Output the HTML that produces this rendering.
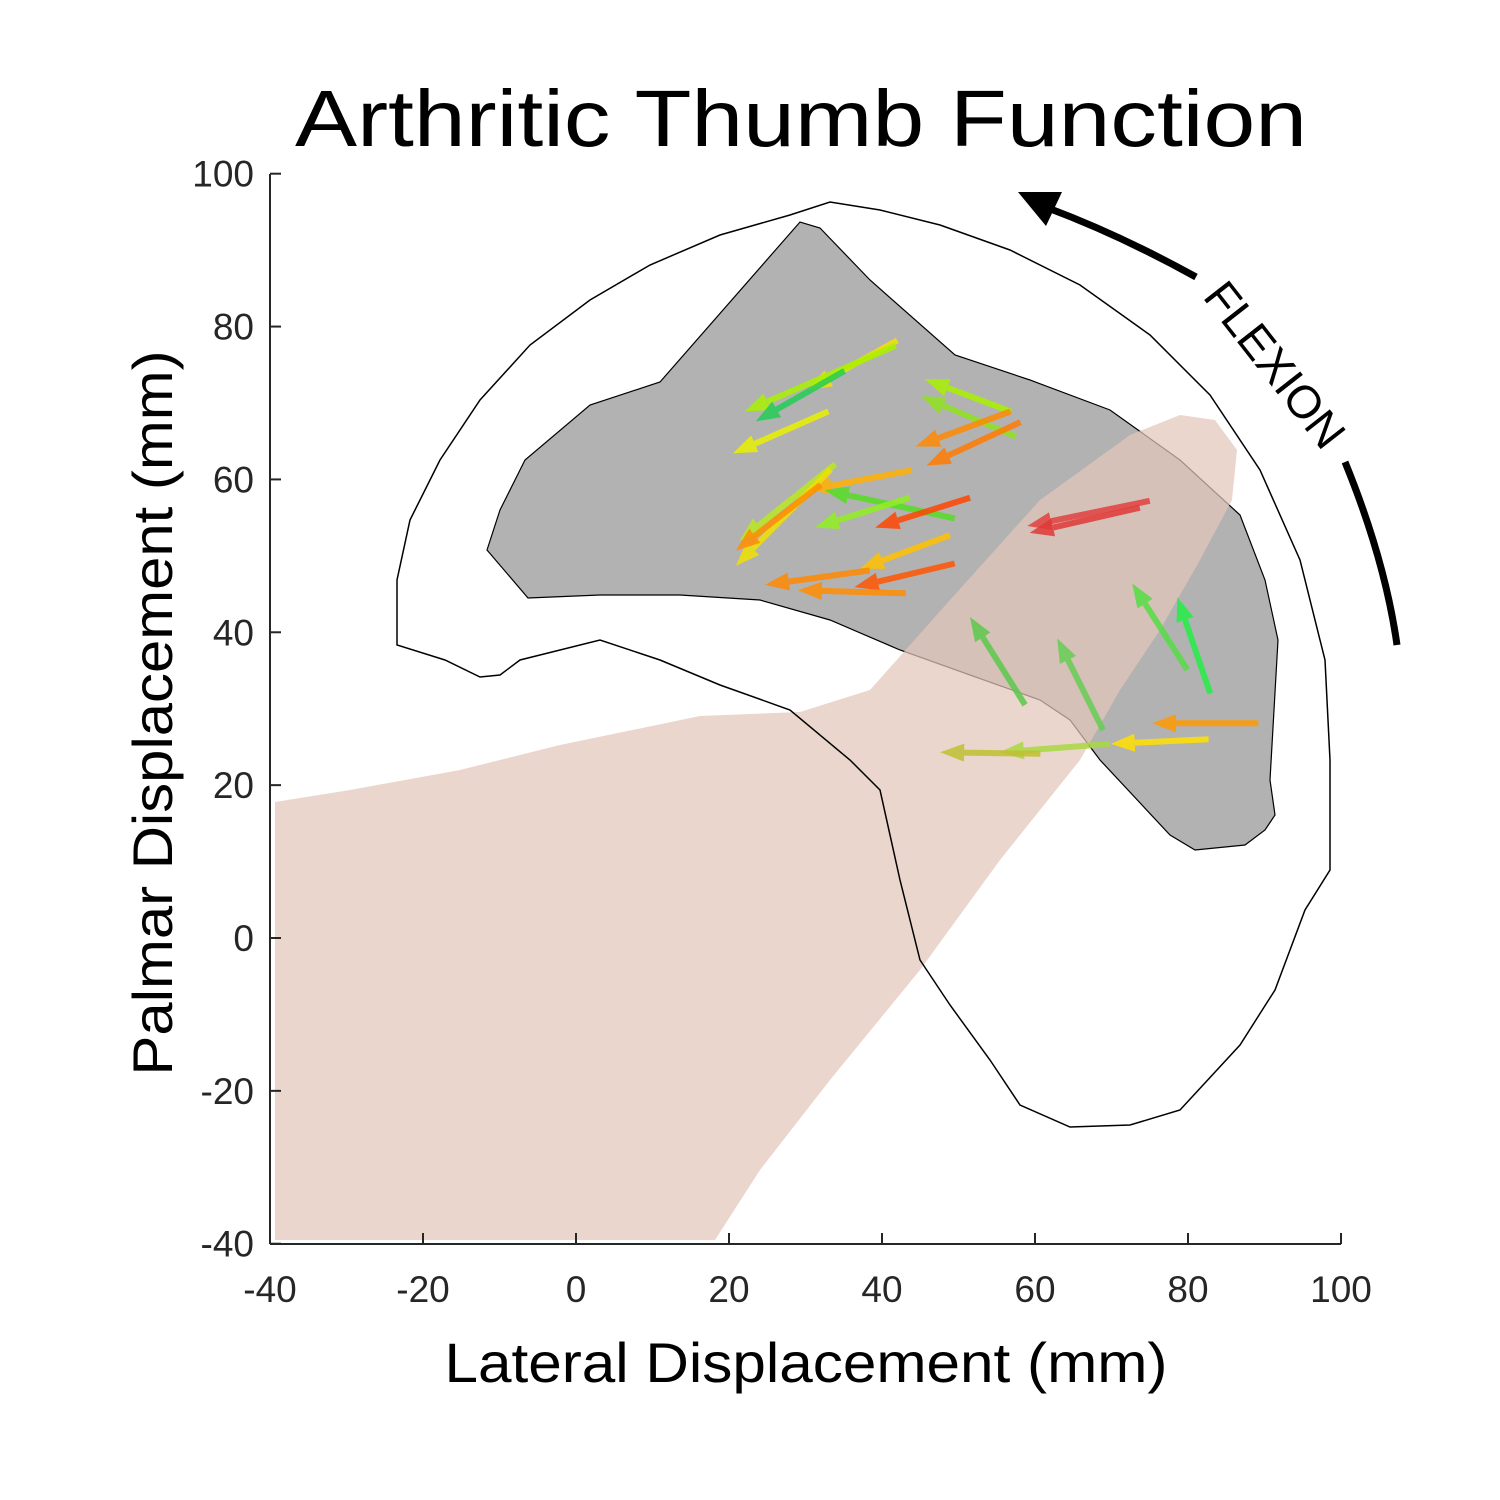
<!DOCTYPE html>
<html><head><meta charset="utf-8"><style>
html,body{margin:0;padding:0;background:#fff;}
svg{display:block;font-family:"Liberation Sans",sans-serif;}
</style></head><body>
<svg id="chart" width="1500" height="1500" viewBox="0 0 1500 1500">
<rect width="1500" height="1500" fill="#fff"/>
<text x="801" y="146" font-size="80" text-anchor="middle" textLength="1012" lengthAdjust="spacingAndGlyphs" fill="#000">Arthritic Thumb Function</text>
<path fill="#b2b2b2" stroke="#000" stroke-width="1.2" d="M487,550 L500,510 L525,460 L590,405 L660,382 L800,222 L820,228 L870,280 L955,355 L1030,380 L1110,410 L1180,460 L1240,515 L1265,580 L1278,640 L1270,780 L1275,815 L1265,830 L1245,845 L1195,850 L1170,835 L1100,760 L1070,720 L1040,700 L970,675 L900,650 L830,620 L760,600 L680,595 L600,595 L528,598 Z"/>
<path fill="#e2c6b9" fill-opacity="0.72" d="M275,802 L350,790 L460,770 L560,745 L700,716 L800,712 L870,690 L950,600 L1040,500 L1130,435 L1180,415 L1215,420 L1237,450 L1232,500 L1200,560 L1160,630 L1120,690 L1080,760 L1000,860 L920,970 L830,1080 L760,1170 L715,1240 L275,1240 Z"/>
<path fill="none" stroke="#000" stroke-width="1.5" d="M397,645 L397,580 L410,520 L440,460 L480,400 L530,345 L590,300 L650,265 L720,235 L790,215 L830,202 L880,210 L940,225 L1010,250 L1080,285 L1150,335 L1210,395 L1260,470 L1300,560 L1325,660 L1330,760 L1330,870 L1305,910 L1275,990 L1240,1045 L1180,1110 L1130,1125 L1070,1127 L1020,1105 L990,1060 L950,1005 L920,960 L900,880 L880,790 L850,760 L790,710 L720,685 L660,660 L600,640 L520,660 L500,675 L480,677 L445,660 Z"/>
<g id="arrows"></g>
<g id="axes"></g>
<text x="806" y="1382" font-size="56" text-anchor="middle" textLength="723" lengthAdjust="spacingAndGlyphs" fill="#000">Lateral Displacement (mm)</text>
<text transform="translate(172,713) rotate(-90)" font-size="56" text-anchor="middle" textLength="725" lengthAdjust="spacingAndGlyphs" fill="#000">Palmar Displacement (mm)</text>
<g>
<path d="M1397,645 Q1385,560 1345,462" fill="none" stroke="#000" stroke-width="7"/>
<path d="M1196,277 Q1120,235 1048,208" fill="none" stroke="#000" stroke-width="7"/>
<polygon points="1018,192 1062,192 1046,226" fill="#000"/>
<text transform="translate(1272,367) rotate(52)" font-size="46" text-anchor="middle" dominant-baseline="middle" fill="#000">FLEXION</text>
</g>
</svg>
<script>
var xTicks=[-40,-20,0,20,40,60,80,100];
var yTicks=[-40,-20,0,20,40,60,80,100];
var tailX=[42.0,41.8,35.1,33.0,56.8,57.5,56.8,58.1,43.9,33.9,33.3,32.0,49.5,43.6,51.5,48.9,49.5,38.4,43.1,75.0,73.7,58.7,68.9,79.9,82.9,89.2,82.7,69.8,60.7];
var tailY=[78.2,77.5,74.2,68.9,68.9,65.6,68.9,67.5,61.2,62.0,61.3,59.3,54.9,57.6,57.6,52.7,49.0,48.1,45.1,57.2,56.3,30.5,27.2,35.1,32.0,28.1,26.0,25.4,24.1];
var headX=[30.3,22.1,23.5,20.5,45.6,45.1,44.4,45.8,30.3,21.4,20.9,20.9,32.5,31.2,39.1,37.1,36.4,24.7,29.0,59.0,59.3,51.5,62.9,72.7,78.6,75.3,69.9,55.4,47.6];
var headY=[71.7,68.9,67.6,63.4,73.1,70.9,64.3,61.8,58.6,52.0,48.7,50.7,58.6,53.7,53.7,48.3,45.9,46.2,45.5,53.9,53.0,42.0,39.2,46.4,44.6,28.1,25.4,24.3,24.3];
var colors=["#f2e000","#a8f000","#22cc55","#e8f000","#a8f000","#90e020","#ff8800","#ff7a00","#ffb000","#b8e820","#f0e000","#ff8c00","#55dd22","#90ee20","#ff4400","#ffc000","#ff5500","#ff8800","#ff8c00","#e04040","#e03838","#5cc84a","#66cc55","#55dd44","#22ee44","#ff9900","#ffe000","#a8d840","#c0c030"];
var NS="http://www.w3.org/2000/svg";
function sx(v){return 576+(v)*7.65;}
function sy(v){return 938-(v)*7.643;}
var ag=document.getElementById('arrows');
for(var i=0;i<tailX.length;i++){
  var x0=sx(tailX[i]),y0=sy(tailY[i]),x1=sx(headX[i]),y1=sy(headY[i]);
  var dx=x1-x0,dy=y1-y0,L=Math.sqrt(dx*dx+dy*dy),ux=dx/L,uy=dy/L;
  var hl=24,hw=9,bx=x1-ux*hl,by=y1-uy*hl;
  var g=document.createElementNS(NS,'g');
  
  
  var ln=document.createElementNS(NS,'line');
  ln.setAttribute('x1',x0);ln.setAttribute('y1',y0);ln.setAttribute('x2',bx);ln.setAttribute('y2',by);
  ln.setAttribute('stroke',colors[i]);ln.setAttribute('stroke-width','6');ln.setAttribute('stroke-opacity','0.85');
  g.appendChild(ln);
  var p=document.createElementNS(NS,'polygon');
  p.setAttribute('points',x1+','+y1+' '+(bx-uy*hw)+','+(by+ux*hw)+' '+(bx+uy*hw)+','+(by-ux*hw));
  p.setAttribute('fill',colors[i]);p.setAttribute('fill-opacity','0.85');
  g.appendChild(p);
  ag.appendChild(g);
}
var ax=document.getElementById('axes');
function mk(tag,attrs){var e=document.createElementNS(NS,tag);for(var k in attrs)e.setAttribute(k,attrs[k]);return e;}
var xl=mk('line',{x1:270,y1:1244,x2:1341,y2:1244,stroke:'#262626','stroke-width':2});


ax.appendChild(xl);
var yl=mk('line',{x1:270,y1:174,x2:270,y2:1244,stroke:'#262626','stroke-width':2});


ax.appendChild(yl);
xTicks.forEach(function(v){
  var t=mk('line',{x1:sx(v),y1:1244,x2:sx(v),y2:1233,stroke:'#262626','stroke-width':2});
  
  
  ax.appendChild(t);
  var tx=mk('text',{x:sx(v),y:1302,'font-size':37,'text-anchor':'middle',fill:'#262626'});
  
  
  tx.textContent=v;ax.appendChild(tx);
});
yTicks.forEach(function(v){
  var t=mk('line',{x1:270,y1:sy(v),x2:281,y2:sy(v),stroke:'#262626','stroke-width':2});
  
  
  ax.appendChild(t);
  var tx=mk('text',{x:254,y:sy(v)+13,'font-size':37,'text-anchor':'end',fill:'#262626'});
  
  
  tx.textContent=v;ax.appendChild(tx);
});
</script>
</body></html>
